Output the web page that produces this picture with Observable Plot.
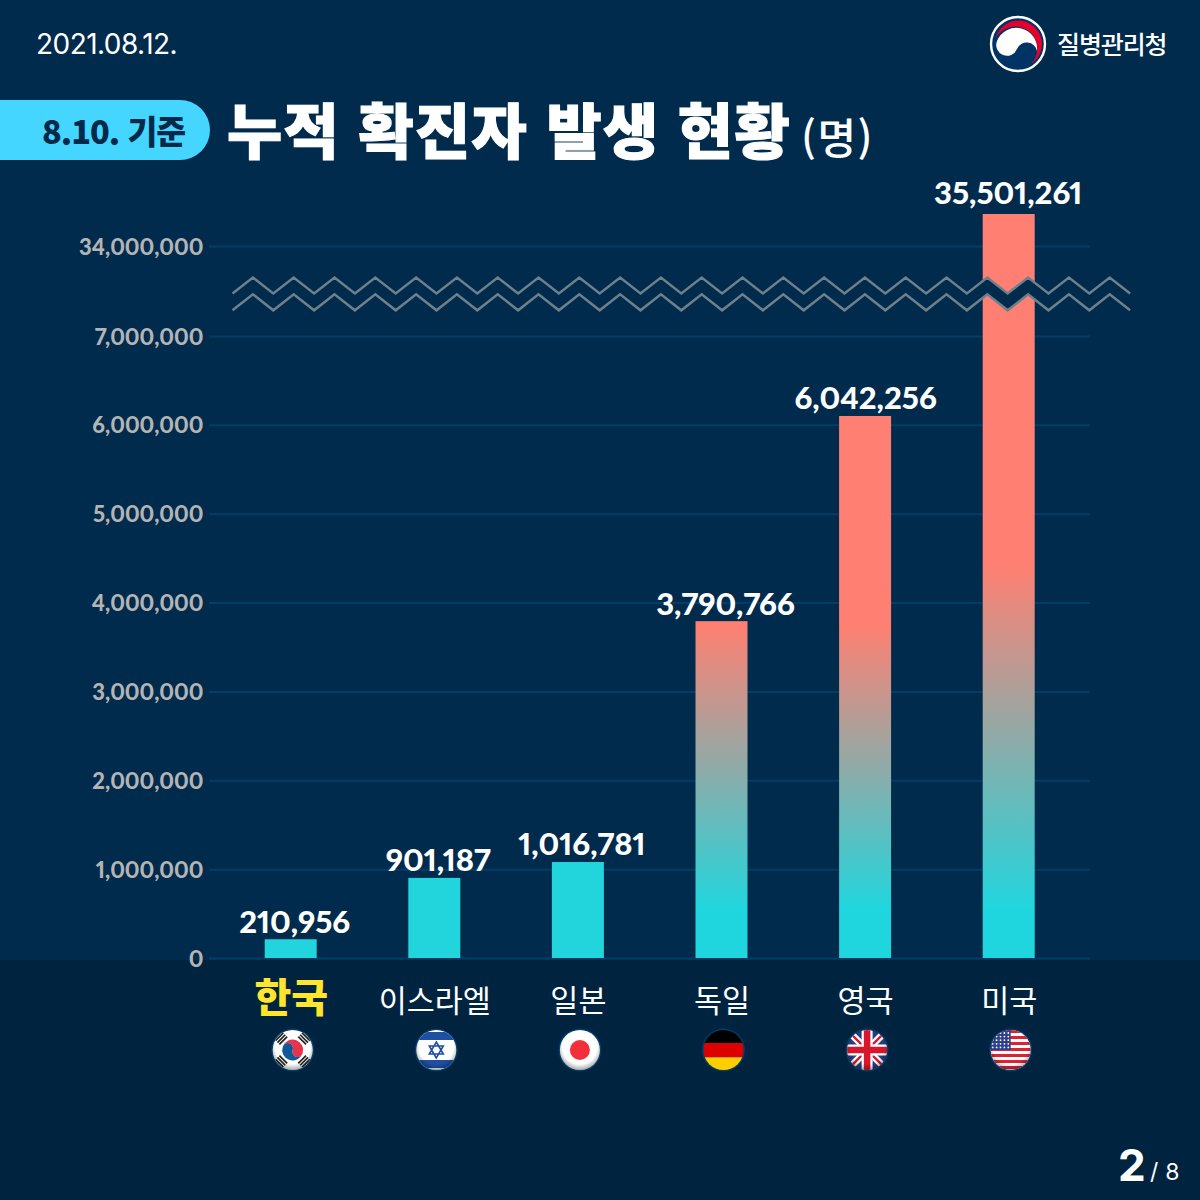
<!DOCTYPE html>
<html lang="ko">
<head>
<meta charset="utf-8">
<script src="https://cdn.jsdelivr.net/npm/d3@7"></script>
<script src="https://cdn.jsdelivr.net/npm/@observablehq/plot@0.6"></script>
<style>
  html, body { margin: 0; background: #002b4c; }
  #page { position: relative; width: 1200px; height: 1200px; overflow: hidden; background: #002b4c; font-family: "Noto Sans CJK KR", sans-serif; color: #fff; }
  #page > div { position: absolute; white-space: nowrap; }
  #floor { left: 0; top: 960px; width: 1200px; height: 240px; background: #00233f; }
  #chart { left: 0; top: 0; }
  #chart svg { display: block; }
  #date { left: 36px; top: 24px; font: 400 28px/40px Inter, sans-serif; letter-spacing: -0.55px; }
  #agency { left: 1057px; top: 24px; font-size: 25px; line-height: 38px; letter-spacing: -1.1px; font-weight: 500; }
  #pill { left: 0; top: 100px; width: 210px; height: 60px; background: #45d6ff; border-radius: 0 30px 30px 0; }
  #pillText { left: 42px; top: 106px; font-size: 32.5px; line-height: 48px; font-weight: 900; color: #00294a; letter-spacing: -1px; }
  #title { left: 227px; top: 88px; font-size: 60px; line-height: 80px; font-weight: 900; letter-spacing: 1.4px; word-spacing: 0; -webkit-text-stroke: 1.2px #fff; }
  #unit { left: 801px; top: 108px; font-size: 42px; line-height: 56px; font-weight: 500; letter-spacing: 1.5px; }
  #pageNo { left: 1118px; top: 1138px; font: 700 44px/54px Inter, sans-serif; }
  #pageOf { left: 1150px; top: 1154px; font: 400 23px/36px Inter, sans-serif; letter-spacing: 0.3px; }
</style>
</head>
<body>
<div id="page">
  <div id="floor"></div>
  <div id="chart"></div>
  <div id="date">2021.08.12.</div>
  <div id="agency">질병관리청</div>
  <div id="pill"></div>
  <div id="pillText">8.10. 기준</div>
  <div id="title">누적 확진자 발생 현황</div>
  <div id="unit">(명)</div>
  <div id="pageNo">2</div>
  <div id="pageOf">/ 8</div>
</div>
<script>
/* global d3, Plot */

const countries = ['한국', '이스라엘', '일본', '독일', '영국', '미국'];
// printed totals
const totals = [210956, 901187, 1016781, 3790766, 6042256, 35501261];
// bar tops (Japan and the UK are drawn a little above their totals)
const barTops = [210956, 901187, 1080000, 3790766, 6100000, 35501261];
const yTicks = [0, 1000000, 2000000, 3000000, 4000000, 5000000, 6000000, 7000000, 34000000];

const rows = countries.map((country, i) => ({ country, total: totals[i], top: barTops[i] }));
const fmt = d3.format(',');

const font = 'Lato, "Noto Sans CJK KR", sans-serif';
const bg = '#002b4c';

// gradients for the tall bars
function gradients() {
  const defs = d3.create('svg:defs');
  [['barGrad', 625], ['usGrad', 565]].forEach(([id, y1]) => {
    const g = defs.append('linearGradient').attr('id', id)
      .attr('gradientUnits', 'userSpaceOnUse')
      .attr('x1', 0).attr('x2', 0).attr('y1', y1).attr('y2', 910);
    g.append('stop').attr('offset', 0).attr('stop-color', '#ff8072');
    g.append('stop').attr('offset', 1).attr('stop-color', '#20d6de');
  });
  const sheen = defs.append('radialGradient').attr('id', 'flagSheen')
    .attr('cx', 0.5).attr('cy', 0.42).attr('r', 0.6);
  sheen.append('stop').attr('offset', 0.72).attr('stop-color', '#000').attr('stop-opacity', 0);
  sheen.append('stop').attr('offset', 1).attr('stop-color', '#000').attr('stop-opacity', 0.38);
  defs.append('clipPath').attr('id', 'flagClip').append('circle').attr('r', 20);
  return defs.node();
}

// the axis break: two zigzags with the background between them
function axisBreak() {
  const g = d3.create('svg:g');
  const step = 20.4;
  const zig = y => d3.range(45).map(i => [232.5 + i * step, i % 2 ? y : y + 16]);
  const upper = zig(277.5);
  const lower = zig(294.3);
  const line = d3.line();
  g.append('path').attr('d', line(upper.concat(lower.slice().reverse())) + 'Z').attr('fill', bg);
  [upper, lower].forEach(pts => {
    g.append('path').attr('d', line(pts)).attr('fill', 'none')
      .attr('stroke', '#6f7f8b').attr('stroke-width', 2.5);
  });
  return g.node();
}

const flagArt = {
  한국: `<rect x="-21" y="-21" width="42" height="42" fill="#fff"/>
    <path d="M-10.5,0A10.5,10.5 0 0 1 10.5,0A5.25,5.25 0 0 1 0,0A5.25,5.25 0 0 0 -10.5,0Z" fill="#e8344a" transform="rotate(20)"/>
    <path d="M-10.5,0A10.5,10.5 0 0 0 10.5,0A5.25,5.25 0 0 1 0,0A5.25,5.25 0 0 0 -10.5,0Z" fill="#0f5a96" transform="rotate(20)"/>
    ${[-45, 45, 135, 225].map(a => `<g transform="rotate(${a}) translate(0,-16)">
      <rect x="-5.5" y="-3.6" width="11" height="1.7" fill="#222"/>
      <rect x="-5.5" y="-0.9" width="11" height="1.7" fill="#222"/>
      <rect x="-5.5" y="1.8" width="11" height="1.7" fill="#222"/></g>`).join('')}`,
  이스라엘: `<rect x="-21" y="-21" width="42" height="42" fill="#fff"/>
    <rect x="-21" y="-18" width="42" height="8" fill="#1f4fa3"/>
    <rect x="-21" y="10" width="42" height="8" fill="#1f4fa3"/>
    <path d="M0,-8L7,4H-7ZM0,8L-7,-4H7Z" fill="none" stroke="#1f4fa3" stroke-width="1.6"/>`,
  일본: `<rect x="-21" y="-21" width="42" height="42" fill="#fff"/><circle r="10" fill="#f22f3a"/>`,
  독일: `<rect x="-21" y="-21" width="42" height="14.5" fill="#000"/>
    <rect x="-21" y="-7" width="42" height="14.5" fill="#dd0000"/>
    <rect x="-21" y="7.3" width="42" height="14" fill="#ffce00"/>`,
  영국: `<rect x="-21" y="-21" width="42" height="42" fill="#2a3b80"/>
    <path d="M-21,-21L21,21M21,-21L-21,21" stroke="#fff" stroke-width="7"/>
    <path d="M-21,-21L21,21M21,-21L-21,21" stroke="#d8162c" stroke-width="2.4"/>
    <path d="M0,-21V21M-21,0H21" stroke="#fff" stroke-width="11"/>
    <path d="M0,-21V21M-21,0H21" stroke="#d8162c" stroke-width="6.5"/>`,
  미국: `<rect x="-21" y="-21" width="42" height="42" fill="#fff"/>
    ${d3.range(7).map(i => `<rect x="-21" y="${-20 + i * 6}" width="42" height="3" fill="#dd2233"/>`).join('')}
    <rect x="-21" y="-21" width="21" height="21" fill="#2f3f8c"/>
    ${d3.range(5).flatMap(r => d3.range(5).map(c => `<circle cx="${-18 + c * 3.9}" cy="${-17 + r * 3.6}" r="0.9" fill="#fff"/>`)).join('')}`
};

// round flags under the country names, placed through the x scale
function flags(index, { x }) {
  const g = d3.create('svg:g');
  const band = typeof x.bandwidth === 'function' ? x.bandwidth() : x.bandwidth;
  countries.forEach(c => {
    const f = g.append('g').attr('transform', `translate(${x(c) + band / 2 + 2},1050)`);
    f.append('circle').attr('r', 21.5).attr('fill', '#003e68');
    f.append('g').attr('clip-path', 'url(#flagClip)').html(flagArt[c]);
    if (c !== '독일') f.append('circle').attr('r', 20).attr('fill', 'url(#flagSheen)');
  });
  return g.node();
}

function logo() {
  const g = d3.create('svg:g').attr('transform', 'translate(1018,44)');
  g.append('circle').attr('r', 27).attr('fill', '#003366').attr('stroke', '#fff').attr('stroke-width', 2.4);
  g.append('path').attr('d', 'M-22.5,-5A23.5,23.5 0 1 1 13,20A22,22 0 1 0 -22.5,-5Z').attr('fill', '#e4002b');
  g.append('path').attr('d', 'M-21,-3A20.8,20.8 0 0 1 19,7A10.5,10.5 0 0 0 -1,5A10.5,10.5 0 0 1 -21,-3Z').attr('fill', '#fff');
  return g.node();
}

const labelMark = (keep, dx, dy) => Plot.text(rows.filter(keep), {
  x: 'country',
  y: 'top',
  text: d => fmt(d.total),
  dx,
  dy,
  fill: '#fff',
  fontSize: 31,
  fontWeight: 900,
  fontVariant: 'proportional-nums'
});

const chart = Plot.plot({
  width: 1200,
  height: 1200,
  marginLeft: 209,
  marginRight: 110,
  marginTop: 0,
  marginBottom: 242,
  style: { background: 'transparent', fontFamily: font },
  x: { domain: countries, range: [218.9, 1080.5], paddingInner: 0.638, paddingOuter: 0.319, round: false, label: null },
  y: { type: 'linear', domain: [0, 7000000, 34000000, 35501261], range: [958, 336, 246, 214], label: null },
  marks: [
    gradients,
    Plot.ruleY(yTicks, { stroke: '#003e68', strokeWidth: 2 }),
    Plot.barY(rows.filter(d => d.total < 2000000), { x: 'country', y: 'top', fill: '#22d5dd' }),
    Plot.barY(rows.filter(d => d.total >= 2000000 && d.country !== '미국'), { x: 'country', y: 'top', fill: 'url(#barGrad)' }),
    Plot.barY(rows.filter(d => d.country === '미국'), { x: 'country', y: 'top', fill: 'url(#usGrad)' }),
    axisBreak,
    Plot.axisY(yTicks, {
      anchor: 'left',
      tickSize: 0,
      tickPadding: 6,
      tickFormat: fmt,
      label: null,
      dy: 1,
      fontSize: 22,
      fontWeight: 900,
      fill: '#b4b4b4',
      fontVariant: 'proportional-nums'
    }),
    Plot.axisX(countries.slice(1), {
      anchor: 'bottom',
      tickSize: 0,
      tickPadding: 32,
      label: null,
      fontSize: 30.5,
      fill: '#fff',
      fontFamily: '"Noto Sans CJK KR", sans-serif'
    }),
    Plot.axisX(countries.slice(0, 1), {
      anchor: 'bottom',
      tickSize: 0,
      tickPadding: 25,
      label: null,
      fontSize: 40,
      fontWeight: 900,
      fill: '#ffe52c',
      fontFamily: '"Noto Sans CJK KR", sans-serif'
    }),
    labelMark(d => d.total < 5000000, 3.5, -17),
    labelMark(d => d.country === '영국', 0, -17),
    labelMark(d => d.country === '미국', -1, -20),
    flags,
    logo
  ]
});
document.getElementById('chart').append(chart);
</script>
</body>
</html>
